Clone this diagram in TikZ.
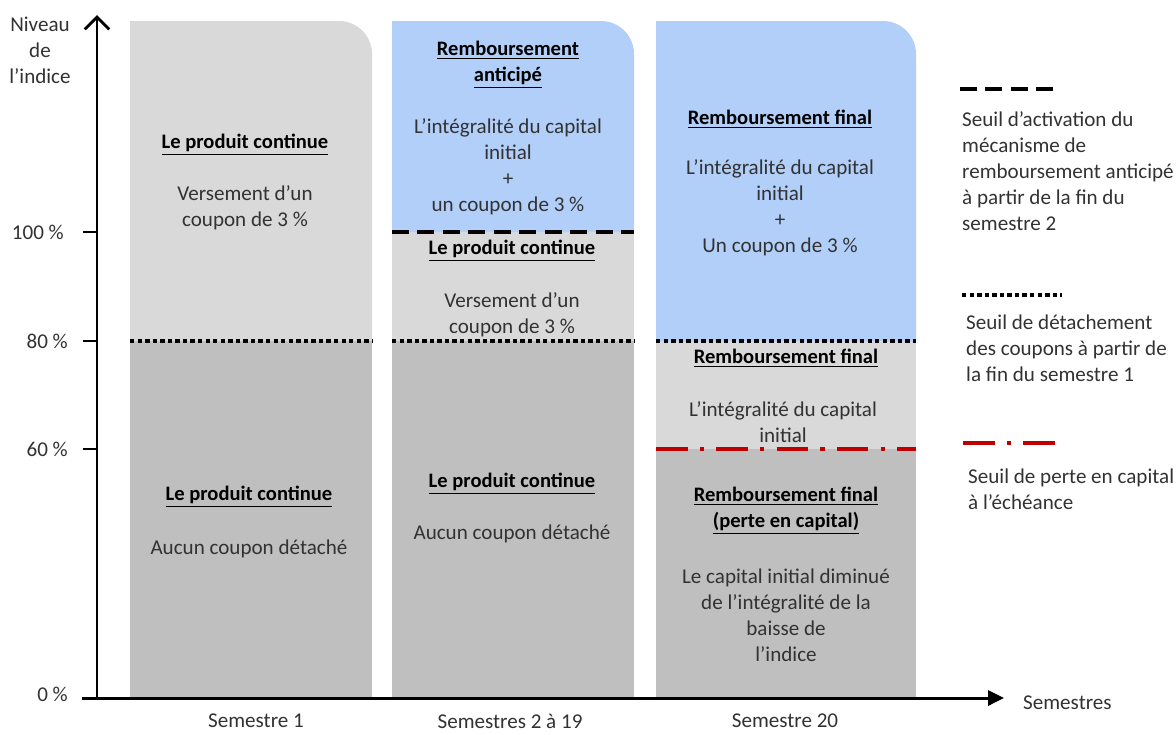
\documentclass[tikz,border=0pt]{standalone}
\usepackage{fontspec}
\setmainfont{Carlito}
\usetikzlibrary{arrows.meta}
\definecolor{clair}{RGB}{217,217,217}
\definecolor{fonce}{RGB}{191,191,191}
\definecolor{bleu}{RGB}{178,207,250}
\definecolor{texte}{RGB}{50,50,50}
\definecolor{rouge}{RGB}{192,0,0}
\tikzset{
  titre/.style={font=\fontsize{11.7}{14.8}\selectfont\bfseries,text=black,align=center},
  corps/.style={text=texte,align=center},
  legende/.style={text=texte,align=left,anchor=west},
  graduation/.style={text=texte,anchor=east},
  seuilanticipe/.style={line width=2.3pt,dash pattern=on 9.5pt off 5pt},
  seuilcoupon/.style={line width=2.6pt,dash pattern=on 2.5pt off 1.8pt},
  seuilperte/.style={rouge,line width=2pt,dash pattern=on 18pt off 7pt on 2.3pt off 7pt},
}
\newcommand{\souligne}[1]{\underline{#1}}
\begin{document}
\begin{tikzpicture}[x=0.02cm,y=-0.02cm,line join=miter,font=\fontsize{12}{14.8}\selectfont]
\useasboundingbox (0,0) rectangle (1176,734);
% colonnes
\fill[fonce] (130,698) rectangle (372,341);
\fill[clair] (130,341) -- (130,21) -- (250,21) [rounded corners=0.66cm] -- (372,21) -- (372,200) [sharp corners] -- (372,341) -- cycle;
\fill[fonce] (392,698) rectangle (634,341);
\fill[clair] (392,341) rectangle (634,232);
\fill[bleu] (392,232) -- (392,21) -- (500,21) [rounded corners=0.66cm] -- (634,21) -- (634,150) [sharp corners] -- (634,232) -- cycle;
\fill[fonce] (656,698) rectangle (916,449);
\fill[clair] (656,449) rectangle (916,341);
\fill[bleu] (656,341) -- (656,21) -- (780,21) [rounded corners=0.66cm] -- (916,21) -- (916,200) [sharp corners] -- (916,341) -- cycle;
% seuils
\draw[seuilcoupon] (130,341) -- (372,341);
\draw[seuilcoupon] (392,341) -- (634,341);
\draw[seuilcoupon] (656,341) -- (916,341);
\draw[seuilanticipe] (392,232) -- (634,232);
\draw[seuilperte] (656,449) -- (916,449);
% axes
\coordinate (origine) at (97,698);
\coordinate (xdebut) at (82,698);
\coordinate (xfin) at (1004,698);
\coordinate (yfin) at (97,15);
\draw[line width=1.7pt,-{Triangle[length=9pt,width=8.5pt]}] (xdebut) -- (xfin);
\draw[line width=1.7pt,-{Straight Barb[length=7pt,width=14pt,line width=1.7pt]}] (origine) -- (yfin);
\foreach \y in {232,341,449}
  \draw[line width=1pt] (83,\y) -- (97,\y);
\node[graduation] (p100) at (70,232) {100 \%};
\node[graduation] (p80) at (74,341) {80 \%};
\node[graduation] (p60) at (74,449) {60 \%};
\node[graduation] (p0) at (74,694) {0 \%};
\node[corps] (niveau) at (40,50) {Niveau\\de\\l’indice};
\node[corps,anchor=west] (semestres) at (1017,703) {Semestres};
\node[corps] (s1) at (256,721) {Semestre 1};
\node[corps] (s2) at (510,721) {Semestres 2 à 19};
\node[corps] (s20) at (785,721) {Semestre 20};
% semestre 1
\node[titre] (c1haut) at (245,145) {\souligne{Le produit continue}};
\node[corps] (c1coupon) at (245,208) {Versement d’un\\coupon de 3 \%};
\node[titre] (c1bas) at (249,497) {\souligne{Le produit continue}};
\node[corps] (c1rien) at (249,549) {Aucun coupon détaché};
% semestres 2 a 19
\node[titre] (c2anticipe) at (508,65) {\souligne{Remboursement}\\\souligne{anticipé}};
\node[corps] (c2capital) at (508,167) {L’intégralité du capital\\initial\\+\\un coupon de 3 \%};
\node[titre] (c2haut) at (512,251) {\souligne{Le produit continue}};
\node[corps] (c2coupon) at (512,315) {Versement d’un\\coupon de 3 \%};
\node[titre] (c2bas) at (512,484) {\souligne{Le produit continue}};
\node[corps] (c2rien) at (512,534) {Aucun coupon détaché};
% semestre 20
\node[titre] (c3final) at (780,119) {\souligne{Remboursement final}};
\node[corps] (c3capital) at (780,208) {L’intégralité du capital\\initial\\+\\Un coupon de 3 \%};
\node[titre] (c3milieu) at (786,358) {\souligne{Remboursement final}};
\node[corps] (c3initial) at (783,422) {L’intégralité du capital\\initial};
\node[titre] (c3perte) at (786,511) {\souligne{Remboursement final}\\\souligne{(perte en capital)}};
\node[corps] (c3baisse) at (786,615) {Le capital initial diminué\\de l’intégralité de la\\baisse de\\l’indice};
% legende
\draw[seuilanticipe] (960,89) -- (1060,89);
\node[legende] (leganticipe) at (956,171) {Seuil d’activation du\\mécanisme de\\remboursement anticipé\\à partir de la fin du\\semestre 2};
\draw[seuilcoupon] (962,295) -- (1062,295);
\node[legende] (legcoupon) at (960,348) {Seuil de détachement\\des coupons à partir de\\la fin du semestre 1};
\draw[seuilperte] (963,443) -- (1056,443);
\node[legende] (legperte) at (962,489) {Seuil de perte en capital\\à l’échéance};
\end{tikzpicture}
\end{document}
